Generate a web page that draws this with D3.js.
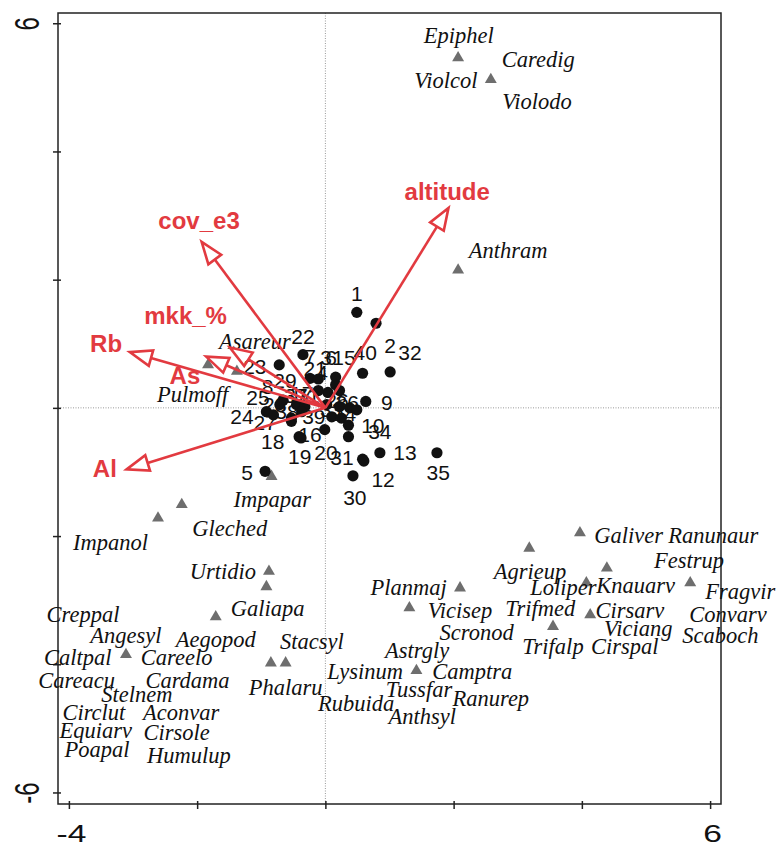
<!DOCTYPE html>
<html>
<head>
  <meta charset="utf-8">
  <title>Ordination biplot</title>
  <script src="https://d3js.org/d3.v7.min.js"></script>
  <style>
    body { margin: 0; background: #fff; }
    .sp { font-family: "Liberation Serif", "Times New Roman", serif; font-style: italic; font-size: 22.5px; fill: #111; }
    .site { font-family: "Liberation Sans", Arial, sans-serif; font-size: 21px; fill: #111; }
    .env { font-family: "Liberation Sans", Arial, sans-serif; font-weight: bold; font-size: 24px; fill: #e23a40; }
    .axis text { font-family: "Liberation Sans", Arial, sans-serif; font-size: 24px; fill: #111; }
  </style>
</head>
<body>
<svg class="chart"></svg>

<script>
// axis ranges and ticks
var xDomain = [-4.17, 6.17],
    yDomain = [-6.18, 6.16];
var xTicks = [-4, -2, 0, 2, 4, 6],
    yTicks = [-6, -4, -2, 0, 2, 4, 6];
var xTickLabels = {"-4": "-4", "6": "6"},
    yTickLabels = {"-6": "-6", "6": "6"};

// species scores (triangles)
var speciesPoints = [
  [2.07, 5.46], [2.58, 5.12], [2.07, 2.15], [-1.83, 0.67], [-1.38, 0.57],
  [-0.84, -1.07], [-2.24, -1.51], [-2.61, -1.72], [-0.88, -2.55], [-0.92, -2.79],
  [-1.71, -3.26], [-3.11, -3.85], [-0.85, -3.98], [-0.62, -3.98], [1.42, -4.10],
  [1.31, -3.12], [2.10, -2.81], [3.18, -2.19], [3.97, -1.95], [4.39, -2.50],
  [4.07, -2.73], [4.13, -3.23], [3.55, -3.41], [5.69, -2.73]
];

// species names and where their labels sit (data units)
var speciesNames = ["Epiphel", "Caredig", "Violcol", "Violodo", "Anthram", "Asareur", "Pulmoff",
  "Impapar", "Gleched", "Impanol", "Urtidio", "Galiapa", "Creppal", "Angesyl", "Aegopod",
  "Caltpal", "Careelo", "Careacu", "Cardama", "Phalaru", "Stelnem", "Circlut", "Aconvar",
  "Equiarv", "Cirsole", "Poapal", "Humulup", "Stacsyl", "Lysinum", "Rubuida", "Planmaj",
  "Vicisep", "Scronod", "Astrgly", "Camptra", "Tussfar", "Ranurep", "Anthsyl", "Agrieup",
  "Loliper", "Trifmed", "Trifalp", "Galiver", "Ranunaur", "Festrup", "Knauarv", "Fragvir",
  "Cirsarv", "Convarv", "Viciang", "Scaboch", "Cirspal"];
var speciesLabelPos = [
  [2.08, 5.79], [3.32, 5.43], [1.88, 5.10], [3.30, 4.76], [2.85, 2.45], [-1.10, 1.03], [-2.07, 0.19],
  [-0.83, -1.44], [-1.49, -1.89], [-3.35, -2.11], [-1.60, -2.57], [-0.90, -3.14], [-3.78, -3.23], [-3.11, -3.56], [-1.71, -3.62],
  [-3.86, -3.90], [-2.32, -3.90], [-3.88, -4.26], [-2.15, -4.26], [-0.62, -4.37], [-2.94, -4.49], [-3.61, -4.76], [-2.25, -4.76],
  [-3.58, -5.04], [-2.32, -5.07], [-3.56, -5.34], [-2.13, -5.43], [-0.21, -3.65], [0.62, -4.13], [0.48, -4.63], [1.30, -2.81],
  [2.10, -3.17], [2.36, -3.51], [1.43, -3.79], [2.29, -4.13], [1.46, -4.40], [2.58, -4.54], [1.51, -4.82], [3.19, -2.57],
  [3.71, -2.82], [3.35, -3.14], [3.55, -3.73], [4.73, -2.01], [6.05, -2.01], [5.67, -2.40], [4.84, -2.79], [6.47, -2.87],
  [4.75, -3.17], [6.28, -3.24], [4.88, -3.46], [6.16, -3.57], [4.67, -3.73]
];

// sample sites: id, score, label position
var siteIds = [1, 2, 40, 32, 9, 22, 23, 7, 21, 15, 6, 3, 4, 17, 29, 8, 37, 11, 26, 36,
  33, 38, 25, 24, 27, 28, 39, 14, 20, 10, 34, 16, 19, 18, 5, 13, 31, 12, 30, 35];
var siteScores = [
  [0.49, 1.49], [0.79, 1.32], [0.58, 0.54], [1.01, 0.56], [0.63, 0.10], [-0.35, 0.83], [-0.72, 0.67],
  [-0.24, 0.46], [-0.11, 0.45], [0.16, 0.48], [0.16, 0.36], [0.22, 0.27], [0.04, 0.24], [-0.11, 0.27],
  [-0.66, 0.12], [-0.71, 0.05], [-0.45, 0.05], [-0.32, 0.02], [0.02, 0.05], [0.22, 0.02],
  [0.38, 0.00], [0.49, -0.03], [-0.92, -0.06], [-0.81, -0.11], [-0.53, -0.16], [-0.37, -0.06],
  [0.10, -0.14], [0.25, -0.16], [-0.01, -0.34], [0.36, -0.27], [0.36, -0.45], [-0.41, -0.45],
  [-0.38, -0.47], [-0.53, -0.21], [-0.94, -0.99], [0.85, -0.70], [0.58, -0.80], [0.60, -0.83],
  [0.43, -1.06], [1.74, -0.70]
];
var siteLabelPos = [
  [0.49, 1.79], [1.01, 0.97], [0.62, 0.86], [1.32, 0.86], [0.96, 0.09], [-0.35, 1.12], [-1.10, 0.64],
  [-0.24, 0.80], [-0.16, 0.61], [0.29, 0.78], [0.09, 0.78], [0.01, 0.78], [-0.05, 0.56], [-0.37, 0.22],
  [-0.63, 0.42], [-0.90, 0.33], [-0.46, 0.19], [-0.26, 0.19], [0.18, 0.11], [0.34, 0.09],
  [0.10, -0.03], [-0.60, -0.06], [-1.05, 0.16], [-1.30, -0.14], [-0.94, -0.22], [-0.79, 0.06],
  [-0.18, -0.14], [0.30, -0.09], [0.01, -0.69], [0.74, -0.27], [0.85, -0.37], [-0.24, -0.42],
  [-0.40, -0.76], [-0.82, -0.53], [-1.22, -1.00], [1.24, -0.70], [0.26, -0.78], [0.90, -1.12],
  [0.46, -1.39], [1.76, -1.01]
];

// environmental variables (arrow tips + label positions)
var envNames = ["altitude", "cov_e3", "mkk_%", "Rb", "As", "Al"];
var envTips = [[1.92, 3.12], [-1.93, 2.59], [-1.49, 0.94], [-3.05, 0.87], [-1.86, 0.80], [-3.10, -0.96]];
var envLabelPos = [[1.90, 3.37], [-1.97, 2.93], [-2.18, 1.44], [-3.42, 1.01], [-2.19, 0.50], [-3.44, -0.94]];

var W = 776, H = 846;
var plotL = 58, plotR = 721, plotT = 13, plotB = 804;
var red = "#e23a40";

var svg = d3.select(".chart").attr("width", W).attr("height", H);

var x = d3.scaleLinear().domain(xDomain).range([plotL, plotR]);
var y = d3.scaleLinear().domain(yDomain).range([plotB, plotT]);

// dotted zero lines
svg.append("line")
    .attr("x1", x(0)).attr("x2", x(0)).attr("y1", plotT).attr("y2", plotB)
    .attr("stroke", "#999").attr("stroke-width", 1).attr("stroke-dasharray", "1,1.5");
svg.append("line")
    .attr("x1", plotL).attr("x2", plotR).attr("y1", y(0)).attr("y2", y(0))
    .attr("stroke", "#999").attr("stroke-width", 1).attr("stroke-dasharray", "1,1.5");

// axes
var xAxis = svg.append("g")
    .attr("class", "axis")
    .attr("transform", "translate(0," + plotB + ")")
    .call(d3.axisBottom(x).tickValues(xTicks).tickSize(5)
      .tickFormat(function(d) { return xTickLabels[d] || ""; }));
xAxis.select(".domain").remove();
xAxis.selectAll(".tick line").attr("y1", -3).attr("y2", 5).attr("stroke", "#222").attr("stroke-width", 1.5);
xAxis.selectAll(".tick text")
    .attr("y", 0).attr("dy", 0)
    .attr("transform", "translate(2,38) scale(1.4,1)");

var yAxis = svg.append("g")
    .attr("class", "axis")
    .attr("transform", "translate(" + plotL + ",0)")
    .call(d3.axisLeft(y).tickValues(yTicks).tickSize(5)
      .tickFormat(function(d) { return yTickLabels[d] || ""; }));
yAxis.select(".domain").remove();
yAxis.selectAll(".tick line").attr("x1", 3).attr("x2", -5).attr("stroke", "#222").attr("stroke-width", 1.5);
yAxis.selectAll(".tick text")
    .attr("x", 0).attr("dy", 0)
    .attr("text-anchor", "middle")
    .attr("transform", "translate(-19,0) scale(1.45,1) rotate(-90)");

// frame
svg.append("rect")
    .attr("x", plotL).attr("y", plotT)
    .attr("width", plotR - plotL).attr("height", plotB - plotT)
    .attr("fill", "none").attr("stroke", "#222").attr("stroke-width", 1.5);

// species triangles
svg.selectAll(".tri")
    .data(speciesPoints)
  .enter().append("path")
    .attr("class", "tri")
    .attr("d", d3.symbol().type(d3.symbolTriangle).size(62))
    .attr("transform", function(d) { return "translate(" + x(d[0]) + "," + y(d[1]) + ")"; })
    .attr("fill", "#6e6e6e");

svg.selectAll(".sp")
    .data(speciesNames)
  .enter().append("text")
    .attr("class", "sp")
    .attr("x", function(d, i) { return x(speciesLabelPos[i][0]); })
    .attr("y", function(d, i) { return y(speciesLabelPos[i][1]); })
    .attr("dy", "0.3em")
    .attr("text-anchor", "middle")
    .text(function(d) { return d; });

// sites
svg.selectAll(".dot")
    .data(siteScores)
  .enter().append("circle")
    .attr("class", "dot")
    .attr("cx", function(d) { return x(d[0]); })
    .attr("cy", function(d) { return y(d[1]); })
    .attr("r", 5.6)
    .attr("fill", "#111");

svg.selectAll(".site")
    .data(siteIds)
  .enter().append("text")
    .attr("class", "site")
    .attr("x", function(d, i) { return x(siteLabelPos[i][0]); })
    .attr("y", function(d, i) { return y(siteLabelPos[i][1]); })
    .attr("dy", "0.36em")
    .attr("text-anchor", "middle")
    .text(function(d) { return d; });

// environmental arrows
var headLen = 22, headHalf = 8;
var arrows = svg.append("g");
envTips.forEach(function(t) {
  var ox = x(0), oy = y(0), tx = x(t[0]), ty = y(t[1]);
  var dx = tx - ox, dy = ty - oy, len = Math.sqrt(dx * dx + dy * dy);
  var ux = dx / len, uy = dy / len;
  var bx = tx - ux * headLen, by = ty - uy * headLen;
  arrows.append("line")
      .attr("x1", ox).attr("y1", oy).attr("x2", bx).attr("y2", by)
      .attr("stroke", red).attr("stroke-width", 2.6);
  arrows.append("polygon")
      .attr("points", [[tx, ty], [bx - uy * headHalf, by + ux * headHalf], [bx + uy * headHalf, by - ux * headHalf]].join(" "))
      .attr("fill", "none").attr("stroke", red).attr("stroke-width", 2.6)
      .attr("stroke-linejoin", "miter");
});

svg.selectAll(".env")
    .data(envNames)
  .enter().append("text")
    .attr("class", "env")
    .attr("x", function(d, i) { return x(envLabelPos[i][0]); })
    .attr("y", function(d, i) { return y(envLabelPos[i][1]); })
    .attr("dy", "0.36em")
    .attr("text-anchor", "middle")
    .text(function(d) { return d; });
</script>
</body>
</html>
